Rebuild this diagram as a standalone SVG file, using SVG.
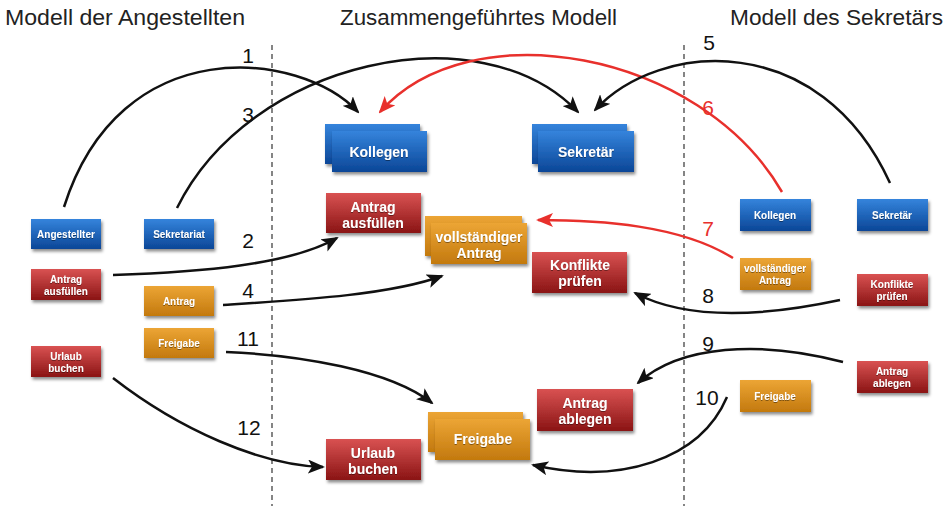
<svg xmlns="http://www.w3.org/2000/svg" width="943" height="506" viewBox="0 0 943 506">
<defs>
<linearGradient id="gb" x1="0" y1="0" x2="0" y2="1"><stop offset="0" stop-color="#3584dc"/><stop offset="1" stop-color="#0b4697"/></linearGradient>
<linearGradient id="gr" x1="0" y1="0" x2="0" y2="1"><stop offset="0" stop-color="#d95252"/><stop offset="1" stop-color="#8a1414"/></linearGradient>
<linearGradient id="go" x1="0" y1="0" x2="0" y2="1"><stop offset="0" stop-color="#eca535"/><stop offset="1" stop-color="#c3790e"/></linearGradient>
<filter id="sh" x="-20%" y="-20%" width="150%" height="160%"><feDropShadow dx="1.5" dy="2.5" stdDeviation="1.5" flood-color="#000" flood-opacity="0.45"/></filter>
<filter id="ts" x="-10%" y="-30%" width="120%" height="160%"><feDropShadow dx="0" dy="0.8" stdDeviation="0.4" flood-color="#000" flood-opacity="0.5"/></filter>
<marker id="ak" viewBox="0 0 17 14" refX="15" refY="7" markerWidth="17" markerHeight="14" markerUnits="userSpaceOnUse" orient="auto"><path d="M0,0 L17,7 L0,14 L4,7 z" fill="#111"/></marker>
<marker id="ar" viewBox="0 0 17 14" refX="15" refY="7" markerWidth="17" markerHeight="14" markerUnits="userSpaceOnUse" orient="auto"><path d="M0,0 L17,7 L0,14 L4,7 z" fill="#e8302c"/></marker>
</defs>
<style>
.hd{font-family:"Liberation Sans",Arial,sans-serif;font-size:22px;fill:#222}
.num{font-family:"Liberation Sans",Arial,sans-serif;font-size:21px;fill:#111;text-anchor:middle}
.rn{fill:#e8302c}
.b{fill:url(#gb);filter:url(#sh)}
.r{fill:url(#gr);filter:url(#sh)}
.o{fill:url(#go);filter:url(#sh)}
.s{font-family:"Liberation Sans",Arial,sans-serif;font-weight:bold;font-size:10px;fill:#fff;text-anchor:middle;filter:url(#ts)}
.l{font-family:"Liberation Sans",Arial,sans-serif;font-weight:bold;font-size:14px;fill:#fff;text-anchor:middle;filter:url(#ts)}
.dash{stroke:#444;stroke-width:1.3;stroke-dasharray:5,4;fill:none}
.c{fill:none;stroke:#111;stroke-width:2.5;marker-end:url(#ak)}
.cr{fill:none;stroke:#e8302c;stroke-width:2.5;marker-end:url(#ar)}
</style>
<rect width="943" height="506" fill="#fff"/>
<g id="headers">
<text class="hd" x="5" y="25" textLength="240" lengthAdjust="spacingAndGlyphs">Modell der Angestellten</text>
<text class="hd" x="340" y="25" textLength="277" lengthAdjust="spacingAndGlyphs">Zusammengeführtes Modell</text>
<text class="hd" x="730" y="25" textLength="213" lengthAdjust="spacingAndGlyphs">Modell des Sekretärs</text>
</g>
<g id="separators">
<line class="dash" x1="272" y1="45" x2="272" y2="506"/>
<line class="dash" x1="684" y1="45" x2="684" y2="506"/>
</g>
<g id="connectors">
<path class="c" d="M64,207 C120,30 300,50 358,112"/>
<path class="c" d="M177,208 C250,60 480,10 578,112"/>
<path class="cr" d="M782,192 C700,50 470,10 380,112"/>
<path class="c" d="M890,183 C820,30 660,40 595,110"/>
<path class="c" d="M113,275 C200,272 290,265 337,238"/>
<path class="c" d="M223,305 C300,300 390,295 442,276"/>
<path class="cr" d="M733,258 C680,225 600,220 538,220"/>
<path class="c" d="M840,300 C770,315 690,322 635,293"/>
<path class="c" d="M843,362 C760,340 680,345 638,383"/>
<path class="c" d="M727,397 C700,460 620,485 533,465"/>
<path class="c" d="M226,352 C300,355 390,370 432,403"/>
<path class="c" d="M113,378 C180,430 260,465 323,467"/>
</g>
<g id="labels">
<text class="num" x="248" y="63">1</text>
<text class="num" x="248" y="122">3</text>
<text class="num" x="248" y="248">2</text>
<text class="num" x="248" y="298">4</text>
<text class="num" x="248" y="346">11</text>
<text class="num" x="249" y="435">12</text>
<text class="num" x="709" y="50">5</text>
<text class="num rn" x="708" y="115">6</text>
<text class="num rn" x="708" y="236">7</text>
<text class="num" x="708" y="303">8</text>
<text class="num" x="708" y="351">9</text>
<text class="num" x="707" y="405">10</text>
</g>
<g id="l-angestellter"><rect class="b" x="31" y="219" width="70" height="30"/><text class="s" x="66" y="238">Angestellter</text></g>
<g id="l-sekretariat"><rect class="b" x="144" y="219" width="70" height="30"/><text class="s" x="179" y="238">Sekretariat</text></g>
<g id="l-antrag-ausfuellen"><rect class="r" x="31" y="269" width="70" height="31"/><text class="s" x="66" y="283">Antrag</text><text class="s" x="66" y="295">ausfüllen</text></g>
<g id="l-antrag"><rect class="o" x="144" y="286" width="70" height="30"/><text class="s" x="179" y="305">Antrag</text></g>
<g id="l-freigabe"><rect class="o" x="144" y="328" width="70" height="30"/><text class="s" x="179" y="347">Freigabe</text></g>
<g id="l-urlaub-buchen"><rect class="r" x="31" y="346" width="70" height="31"/><text class="s" x="66" y="360">Urlaub</text><text class="s" x="66" y="372">buchen</text></g>
<g id="m-kollegen"><rect class="b" x="325" y="124" width="95" height="40"/><rect class="b" x="332" y="131" width="95" height="41"/><text class="l" x="379" y="157">Kollegen</text></g>
<g id="m-sekretaer"><rect class="b" x="532" y="124" width="95" height="40"/><rect class="b" x="538" y="131" width="96" height="41"/><text class="l" x="586" y="157">Sekretär</text></g>
<g id="m-antrag-ausfuellen"><rect class="r" x="326" y="193" width="95" height="40"/><text class="l" x="373" y="212">Antrag</text><text class="l" x="373" y="228">ausfüllen</text></g>
<g id="m-vollstaendiger-antrag"><rect class="o" x="425" y="216" width="97" height="40"/><rect class="o" x="431" y="223" width="96" height="41"/><text class="l" x="479" y="242">vollständiger</text><text class="l" x="479" y="258">Antrag</text></g>
<g id="m-konflikte-pruefen"><rect class="r" x="532" y="252" width="95" height="41"/><text class="l" x="580" y="270">Konflikte</text><text class="l" x="580" y="286">prüfen</text></g>
<g id="m-antrag-ablegen"><rect class="r" x="537" y="389" width="96" height="42"/><text class="l" x="585" y="408">Antrag</text><text class="l" x="585" y="424">ablegen</text></g>
<g id="m-freigabe"><rect class="o" x="428" y="412" width="95" height="40"/><rect class="o" x="435" y="419" width="95" height="41"/><text class="l" x="483" y="444">Freigabe</text></g>
<g id="m-urlaub-buchen"><rect class="r" x="326" y="439" width="95" height="41"/><text class="l" x="373" y="458">Urlaub</text><text class="l" x="373" y="474">buchen</text></g>
<g id="r-kollegen"><rect class="b" x="740" y="199" width="71" height="32"/><text class="s" x="775" y="219">Kollegen</text></g>
<g id="r-sekretaer"><rect class="b" x="857" y="199" width="71" height="32"/><text class="s" x="892" y="219">Sekretär</text></g>
<g id="r-vollstaendiger-antrag"><rect class="o" x="740" y="258" width="71" height="32"/><text class="s" x="775" y="272">vollständiger</text><text class="s" x="775" y="284">Antrag</text></g>
<g id="r-konflikte-pruefen"><rect class="r" x="857" y="274" width="71" height="32"/><text class="s" x="892" y="288">Konflikte</text><text class="s" x="892" y="300">prüfen</text></g>
<g id="r-antrag-ablegen"><rect class="r" x="857" y="361" width="71" height="32"/><text class="s" x="892" y="375">Antrag</text><text class="s" x="892" y="387">ablegen</text></g>
<g id="r-freigabe"><rect class="o" x="740" y="380" width="71" height="32"/><text class="s" x="775" y="400">Freigabe</text></g>
</svg>
